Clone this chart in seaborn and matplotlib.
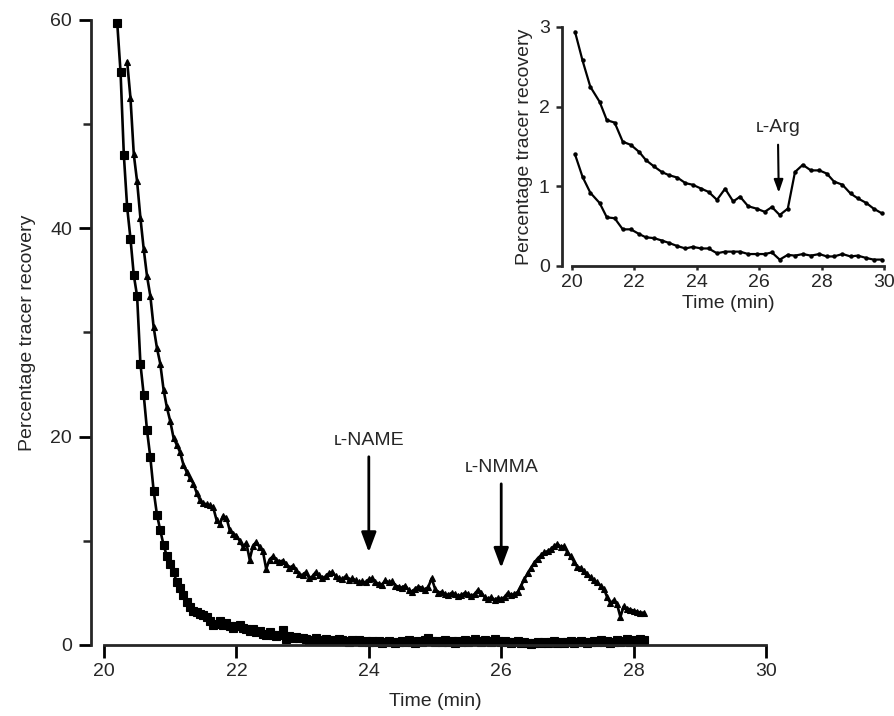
import numpy as np
import matplotlib.pyplot as plt
import seaborn as sns

# Main panel: tracer recovery (%) sampled every 0.05 min
step = 0.05
t0_tri = 20.35
t0_sq = 20.20

tri_vals = [
    56.0, 52.5, 47.1, 44.5, 41.0, 38.0, 35.4, 33.5, 30.5, 28.5,
    27.0, 24.5, 22.8, 21.5, 19.9, 19.2, 18.5, 17.3, 16.6, 16.0,
    15.5, 14.6, 13.9, 13.6, 13.5, 13.4, 13.2, 12.0, 11.6, 12.4,
    12.2, 11.0, 10.7, 10.5, 10.0, 9.4, 9.8, 8.2, 9.5, 9.9,
    9.4, 9.0, 7.3, 8.2, 8.5, 8.2, 8.0, 8.1, 7.8, 7.4,
    7.6, 7.2, 6.8, 6.7, 7.0, 6.4, 6.6, 7.0, 6.7, 6.4,
    6.6, 6.9, 7.0, 6.6, 6.4, 6.3, 6.6, 6.2, 6.4, 6.2,
    6.0, 6.1, 6.0, 6.3, 6.4, 6.0, 5.9, 5.8, 6.2, 6.0,
    6.1, 5.7, 5.6, 5.5, 5.7, 5.3, 5.1, 5.4, 5.6, 5.5,
    5.3, 5.6, 6.4, 5.4, 5.0, 5.1, 4.9, 4.8, 5.0, 4.9,
    4.7, 4.8, 5.0, 4.9, 4.7, 4.9, 5.3, 5.0, 4.6, 4.4,
    4.6, 4.3, 4.5, 4.4, 4.6, 5.0, 4.8, 4.9, 5.1, 5.7,
    6.3, 6.9, 7.4, 7.9, 8.3, 8.6, 8.9, 9.0, 9.2, 9.5,
    9.7, 9.4, 9.5, 8.9, 8.5, 8.0, 7.5, 7.4, 7.1, 6.8,
    6.5, 6.2, 6.0, 5.7, 5.4, 4.6, 4.0, 4.3, 3.9, 2.7,
    3.7, 3.5, 3.4, 3.3, 3.2, 3.1, 3.1,
]

sq_vals = [
    59.7, 55.0, 47.0, 42.0, 39.0, 35.5, 33.5, 27.0, 24.0, 20.6,
    18.0, 14.8, 12.5, 11.0, 9.6, 8.5, 7.8, 7.0, 6.0, 5.5,
    4.8, 4.1, 3.6, 3.3, 3.2, 3.0, 2.9, 2.7, 2.3, 1.9,
    2.0, 2.3, 1.9, 2.1, 1.8, 1.6, 1.8, 1.9, 1.6, 1.5,
    1.3, 1.5, 1.2, 1.3, 1.1, 1.0, 1.2, 1.0, 0.9, 1.0,
    1.4, 0.6, 0.9, 0.7, 0.8, 0.7, 0.7,
    0.6, 0.4, 0.5, 0.7, 0.4, 0.5, 0.6, 0.4, 0.5, 0.4,
    0.6, 0.5, 0.4, 0.3, 0.5, 0.4, 0.5, 0.3, 0.4, 0.3,
    0.4, 0.3, 0.4, 0.2, 0.3, 0.4, 0.3, 0.2, 0.3, 0.4,
    0.3, 0.5, 0.3, 0.2, 0.4, 0.3, 0.5, 0.7, 0.4, 0.3,
    0.4, 0.3, 0.5, 0.3, 0.4, 0.2, 0.4, 0.3, 0.5, 0.3,
    0.4, 0.6, 0.4, 0.3, 0.5, 0.4, 0.3, 0.6, 0.4, 0.3,
    0.4, 0.3, 0.2, 0.3, 0.4, 0.2, 0.3, 0.2, 0.1, 0.2,
    0.3, 0.2, 0.3, 0.2, 0.3, 0.4, 0.2, 0.3, 0.2, 0.3,
    0.4, 0.2, 0.3, 0.4, 0.3, 0.2, 0.3, 0.4, 0.3, 0.5,
    0.3, 0.4, 0.2, 0.3, 0.5, 0.3, 0.4, 0.6, 0.3, 0.5,
    0.4, 0.6, 0.5,
]

# Inset panel
inset_time = [
    20.10, 20.34, 20.59, 20.89, 21.12, 21.37, 21.63, 21.89, 22.16, 22.37,
    22.63, 22.88, 23.11, 23.38, 23.64, 23.87, 24.15, 24.38, 24.65, 24.91,
    25.17, 25.39, 25.65, 25.92, 26.18, 26.41, 26.66, 26.92, 27.15, 27.40,
    27.66, 27.93, 28.17, 28.40, 28.67, 28.93, 29.16, 29.44, 29.67, 29.94,
]
inset_upper = [
    2.94, 2.58, 2.25, 2.06, 1.83, 1.80, 1.56, 1.52, 1.43, 1.33,
    1.25, 1.18, 1.14, 1.11, 1.04, 1.02, 0.97, 0.93, 0.83, 0.97,
    0.81, 0.87, 0.75, 0.72, 0.68, 0.74, 0.64, 0.72, 1.18, 1.27,
    1.20, 1.20, 1.16, 1.06, 1.02, 0.91, 0.85, 0.79, 0.72, 0.66,
]
inset_lower = [
    1.40, 1.12, 0.92, 0.79, 0.61, 0.60, 0.46, 0.46, 0.40, 0.36,
    0.35, 0.32, 0.29, 0.25, 0.22, 0.24, 0.22, 0.22, 0.16, 0.18,
    0.18, 0.18, 0.15, 0.15, 0.15, 0.17, 0.08, 0.14, 0.13, 0.15,
    0.13, 0.15, 0.12, 0.12, 0.15, 0.12, 0.13, 0.10, 0.08, 0.08,
]

main_xticks = [20, 22, 24, 26, 28, 30]
main_yticks = [0, 20, 40, 60]
main_yminor = [10, 30, 50]
inset_xticks = [20, 22, 24, 26, 28, 30]
inset_yticks = [0, 1, 2, 3]

t_tri = t0_tri + step * np.arange(len(tri_vals))
t_sq = t0_sq + step * np.arange(len(sq_vals))

FS = 14

sns.set_style('ticks')
plt.rcParams['font.family'] = ['Liberation Sans', 'DejaVu Sans']
plt.rcParams['axes.linewidth'] = 2.0

fig = plt.figure(figsize=(8.95, 7.16), dpi=100)
ax = fig.add_axes([0.1162, 0.0992, 0.7397, 0.8729])

sns.lineplot(x=t_tri, y=tri_vals, ax=ax, color='black', lw=1.9,
             marker='^', markersize=4.6, markeredgewidth=0.8,
             markeredgecolor='black', estimator=None)
sns.lineplot(x=t_sq, y=sq_vals, ax=ax, color='black', lw=1.9,
             marker='s', markersize=5.6, markeredgewidth=0.8,
             markeredgecolor='black', estimator=None)
for ln in ax.lines:
    ln.set_clip_on(False)

ax.set_xlim(20, 30)
ax.set_ylim(0, 60)
ax.set_xticks(main_xticks)
ax.set_yticks(main_yticks)
ax.set_yticks(main_yminor, minor=True)
ax.tick_params(axis='both', which='major', direction='out', length=9,
               width=2.0, labelsize=FS, color='black')
ax.tick_params(axis='y', which='minor', length=6, width=1.8)
ax.tick_params(axis='y', pad=5)
ax.tick_params(axis='x', pad=4)
ax.set_xlabel('Time (min)', fontsize=FS, labelpad=9)
ax.set_ylabel('Percentage tracer recovery', fontsize=FS, labelpad=10)
sns.despine(ax=ax, offset={'left': 9})

arrow_main = dict(arrowstyle='-|>,head_length=0.8,head_width=0.3',
                  color='black', lw=2.0, mutation_scale=15,
                  shrinkA=3, shrinkB=0)
ax.annotate('ʟ-NAME', xy=(24.0, 8.9), xytext=(24.0, 19.6),
            ha='center', va='center', fontsize=FS, arrowprops=arrow_main)
ax.annotate('ʟ-NMMA', xy=(26.0, 7.4), xytext=(26.0, 17.0),
            ha='center', va='center', fontsize=FS, arrowprops=arrow_main)

# Inset
axin = fig.add_axes([0.639, 0.6285, 0.3486, 0.3338])
sns.lineplot(x=inset_time, y=inset_upper, ax=axin, color='black', lw=1.6,
             marker='o', markersize=3.2, markeredgewidth=0, estimator=None)
sns.lineplot(x=inset_time, y=inset_lower, ax=axin, color='black', lw=1.6,
             marker='o', markersize=3.2, markeredgewidth=0, estimator=None)
for ln in axin.lines:
    ln.set_clip_on(False)
axin.set_xlim(20, 30)
axin.set_ylim(0, 3)
axin.set_xticks(inset_xticks)
axin.set_yticks(inset_yticks)
axin.tick_params(axis='y', direction='out', length=4, width=1.8,
                 labelsize=FS, pad=5)
axin.tick_params(axis='x', direction='out', length=3, width=1.8,
                 labelsize=FS, pad=3)
axin.set_xlabel('Time (min)', fontsize=FS, labelpad=3)
axin.set_ylabel('Percentage tracer recovery', fontsize=FS, labelpad=4)
sns.despine(ax=axin, offset={'left': 7})
arrow_in = dict(arrowstyle='-|>,head_length=0.7,head_width=0.25',
                color='black', lw=1.5, mutation_scale=11,
                shrinkA=4, shrinkB=0)
axin.annotate('ʟ-Arg', xy=(26.63, 0.92), xytext=(26.6, 1.74),
              ha='center', va='center', fontsize=FS, arrowprops=arrow_in)

fig.savefig('out.png', dpi=100)
